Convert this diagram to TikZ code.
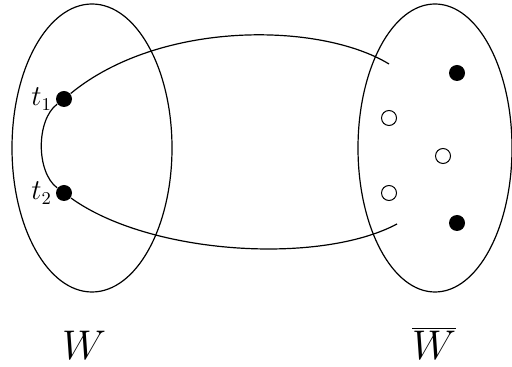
\documentclass[tikz,border=0pt]{standalone}
\begin{document}
\begin{tikzpicture}[x=0.5pt,y=-0.5pt,line width=0.6pt,
  fdot/.style={circle,fill=black,inner sep=0pt,minimum size=8pt},
  odot/.style={circle,draw=black,fill=white,line width=0.5pt,inner sep=0pt,minimum size=7.5pt},
  ptlbl/.style={anchor=east,inner sep=1.5pt,font=\fontsize{13.5}{16}\selectfont},
  setlbl/.style={font=\fontsize{20}{24}\selectfont}]
\useasboundingbox (0,0) rectangle (512,367);
\draw (92,148) ellipse [x radius=80, y radius=144];
\draw (435,148) ellipse [x radius=77, y radius=144];
\node[fdot] (t1) at (64,99) {};
\node[fdot] (t2) at (64,193) {};
\node[ptlbl] (l1) at (t1.west) {$t_1$};
\node[ptlbl] (l2) at (t2.west) {$t_2$};
\coordinate (e1) at (389,64);
\coordinate (e2) at (397,224);
\node[fdot] (f1) at (457,73) {};
\node[fdot] (f2) at (457,223) {};
\node[odot] (o1) at (389,118) {};
\node[odot] (o2) at (443,156) {};
\node[odot] (o3) at (389,193) {};
\draw (t1) .. controls (36,120) and (36,172) .. (t2);
\draw (t1) .. controls (160,20) and (320,22) .. (e1);
\draw (t2) .. controls (150,255) and (320,265) .. (e2);
\node[setlbl] (W) at (84,345) {$W$};
\node[setlbl] (Wb) at (434,343) {$\overline{W}$};
\end{tikzpicture}
\end{document}
